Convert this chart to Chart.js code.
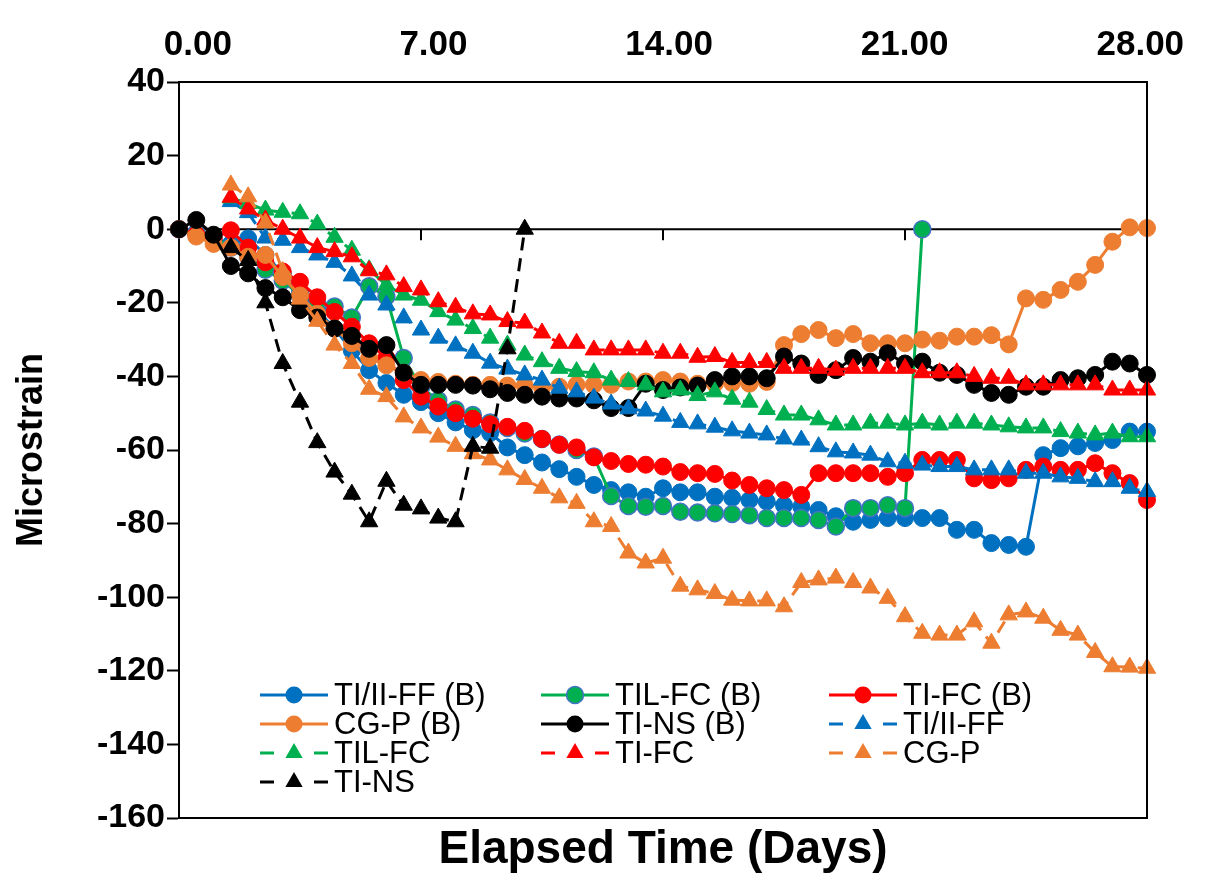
<!DOCTYPE html>
<html>
<head>
<meta charset="utf-8">
<title>Microstrain vs Elapsed Time</title>
<script src="https://cdn.jsdelivr.net/npm/chart.js@4.4.1/dist/chart.umd.min.js"></script>
<style>
    html, body { margin: 0; padding: 0; background: #ffffff; }
    #strainChart { display: block; }
</style>
</head>
<body>
<canvas id="strainChart" width="1210" height="878"></canvas>
<script>
// Elapsed time in days (readings every half day)
const days = [0, 0.5, 1, 1.5, 2, 2.5, 3, 3.5, 4, 4.5, 5, 5.5, 6, 6.5, 7, 7.5, 8, 8.5, 9, 9.5,
    10, 10.5, 11, 11.5, 12, 12.5, 13, 13.5, 14, 14.5, 15, 15.5, 16, 16.5, 17, 17.5, 18, 18.5, 19, 19.5,
    20, 20.5, 21, 21.5, 22, 22.5, 23, 23.5, 24, 24.5, 25, 25.5, 26, 26.5, 27, 27.5, 28];

// Top axis tick labels (days)
const dayTicks = [0, 7, 14, 21, 28];

// Bonded gauges (B) - solid lines with circles
const tiIIffB = [0, -1, -2.5, -4, -2.5, -7, -12, -17, -22, -27,
    -33, -38.3, -41.8, -45, -47, -50, -52.5, -54.6, -55.4, -59.3,
    -61.4, -63.4, -65.2, -67.3, -69.5, -70.9, -71.5, -72.7, -70.4, -71.5,
    -71.5, -72.7, -73, -73.6, -74, -75, -75.4, -76.3, -78, -79.5,
    -79, -78.5, -78.5, -78.5, -78.5, -81.7, -81.7, -85.3, -85.8, -86.3,
    -61.4, -59.5, -59, -58.1, -57.3, -55, -55];
const tilFcB = [0, -1, -2, -5, -7.5, -11, -14, -18, -20, -21,
    -24, -15.5, -18.3, -35, -43, -46.5, -49, -50.5, -52.5, -54,
    -55.5, -57, -58.5, -60, -61.8, -72.5, -75.2, -75.4, -75.2, -76.8,
    -77, -77.2, -77.4, -77.7, -78.5, -78.5, -78.5, -79, -80.8, -75.8,
    -75.8, -75, -75.8, 0];
const tiFcB = [0, -1.5, -2.5, -0.3, -5, -9, -11.5, -14.3, -18.5, -22.5,
    -26.5, -31, -35, -41, -45.5, -48.2, -50, -51.5, -53, -53.7,
    -54.8, -57, -58.6, -59.3, -62, -63, -63.8, -64, -64.5, -66,
    -66.3, -66.5, -68.3, -69.5, -70.4, -70.9, -72.2, -66.3, -66.3, -66.3,
    -66.3, -67.3, -66.3, -62.7, -62.7, -62.7, -67.7, -68.2, -67.7, -65.4,
    -64.5, -65.4, -65.4, -63.6, -66.3, -69, -73.6];
const cgPB = [0, -2, -4, -5, -7.5, -7, -13, -18, -23, -27,
    -31, -35, -37, -39, -41, -41.5, -42, -42.3, -42.3, -42.5,
    -42.5, -43, -42.8, -42.3, -42.3, -42.3, -41.4, -41.4, -41, -41.4,
    -42, -42, -41.8, -42, -41.5, -31.5, -28.5, -27.4, -29.6, -28.5,
    -31, -31, -31, -30, -30.3, -29.2, -29.2, -28.8, -31.3, -18.8,
    -19.2, -16.5, -14.3, -9.7, -3.4, 0.5, 0.3];
const tiNsB = [0, 2.5, -1.5, -10, -12, -16, -18.5, -22, -24, -27,
    -29, -32.5, -31.5, -39, -42.3, -42.3, -42.3, -42.5, -43.5, -44.5,
    -45, -45.5, -46, -46, -46.5, -48.6, -48.6, -42, -43.7, -43,
    -42.5, -41, -40, -40, -40.5, -34.6, -36.5, -39.6, -38.3, -35,
    -36, -33.7, -36.5, -36, -39, -39.6, -42.3, -44.5, -45, -42.8,
    -42.8, -41, -40.5, -39.6, -36, -36.5, -39.6];

// Unbonded gauges - dashed lines with triangles (start at day 1.5)
const tiIIff = [null, null, null, 7.5, 4.5, -2.4, -3, -5, -7, -9,
    -12.7, -17.9, -20.6, -24.1, -27.4, -29.6, -31.7, -33.7, -36.4, -38,
    -39.6, -41, -43.2, -44.2, -45.9, -47.5, -48.8, -49.4, -50.8, -52.5,
    -52.9, -53.8, -54.8, -55.4, -55.9, -57, -57.3, -59.1, -60.5, -60.8,
    -61.4, -63.2, -63.6, -64.1, -64.5, -64.5, -65.4, -65.4, -65.4, -66.3,
    -66.3, -67.3, -67.7, -68.6, -68.6, -70.4, -71.3];
const tilFc = [null, null, null, 8.5, 7, 5.2, 4.6, 4.2, 1.4, -2.2,
    -5.7, -11, -15.2, -17.9, -19.3, -22.4, -24.7, -27, -29.6, -31.5,
    -34.2, -36, -37.8, -38.7, -39, -41, -41.4, -42.3, -44.2, -43.7,
    -45.2, -44.2, -46.2, -47, -49, -50.5, -50.5, -51.8, -53.2, -53.2,
    -52.7, -52.7, -53.2, -52.7, -53.2, -52.7, -52.7, -53.2, -53.7, -54,
    -54, -55, -55.4, -55.9, -55.4, -56.4, -56.4];
const tiFc = [null, null, null, 8.7, 5.5, 2.5, 0, -2.4, -5, -6.1,
    -7.5, -11.3, -12.4, -15.6, -16.5, -19.7, -21.2, -23, -23.3, -25.1,
    -25.5, -28.2, -31, -31, -32.8, -32.8, -32.8, -32.8, -33.7, -33.7,
    -34.8, -34.6, -36.2, -36.2, -36.2, -37.8, -37.8, -37.8, -38.3, -37.8,
    -37.8, -37.8, -37.8, -39, -39, -39, -40, -40.5, -40.5, -42.3,
    -42.3, -42.3, -42.3, -42.3, -43.7, -43.7, -43.7];
const cgP = [null, null, null, 12, 8.8, 1.7, -11.5, -19, -25, -31.5,
    -36.5, -43.5, -45.5, -51, -54, -56.5, -59, -61, -62.7, -65.4,
    -68, -70.4, -73, -74.5, -79.5, -80.8, -88, -90.7, -89.4, -97,
    -98, -99, -100.8, -101, -101, -102.6, -96, -95.3, -94.8, -96,
    -97.5, -100.3, -105.3, -109.8, -110.3, -110.3, -106.7, -112.5, -104.8, -104,
    -105.7, -109, -110.3, -115, -118.9, -119, -119.3];
const tiNs = [null, null, null, -5, -8.5, -20, -36.5, -47, -58, -66,
    -72, -79.5, -68.5, -75, -76, -78.5, -79.5, -59, -59.5, -32.5,
    0];

// Axis settings
const xMin = 0, xMax = 28;
const yMin = -160, yMax = 40, yStep = 20;

const FONT = "'Liberation Sans', Arial, Helvetica, sans-serif";
const BLUE = '#0070C0';
const GREEN = '#00B050';
const RED = '#FF0000';
const ORANGE = '#ED7D31';
const BLACK = '#000000';

function solidSeries(label, data, color, edge) {
    return {
        label: label,
        data: data,
        borderColor: color,
        backgroundColor: color,
        borderWidth: 3,
        pointStyle: 'circle',
        pointRadius: 8.5,
        pointHoverRadius: 8.5,
        pointBackgroundColor: color,
        pointBorderColor: edge || color,
        pointBorderWidth: edge ? 1.5 : 1,
        tension: 0,
        clip: false
    };
}

function dashedSeries(label, data, color) {
    return {
        label: label,
        data: data,
        borderColor: color,
        backgroundColor: color,
        borderWidth: 3,
        borderDash: [13, 8],
        pointStyle: 'triangle',
        pointRadius: 10,
        pointHoverRadius: 10,
        pointBackgroundColor: color,
        pointBorderColor: color,
        pointBorderWidth: 1,
        tension: 0,
        clip: false
    };
}

const datasets = [
    solidSeries('TI/II-FF (B)', tiIIffB, BLUE),
    solidSeries('TIL-FC (B)', tilFcB, GREEN, '#4472C4'),
    solidSeries('TI-FC (B)', tiFcB, RED),
    solidSeries('CG-P (B)', cgPB, ORANGE),
    solidSeries('TI-NS (B)', tiNsB, BLACK),
    dashedSeries('TI/II-FF', tiIIff, BLUE),
    dashedSeries('TIL-FC', tilFc, GREEN),
    dashedSeries('TI-FC', tiFc, RED),
    dashedSeries('CG-P', cgP, ORANGE),
    dashedSeries('TI-NS', tiNs, BLACK)
];
// later series are painted on top, like the original spreadsheet chart
datasets.forEach((ds, i) => { ds.order = datasets.length - i; });

// Legend layout (3 columns inside the plot area)
const legendCols = [260, 541, 829];
const legendRows = [695, 724, 753, 782];
const legendSymbolWidth = 68;

function drawMarker(ctx, style, x, y, r) {
    ctx.beginPath();
    if (style === 'triangle') {
        ctx.moveTo(x, y - r);
        ctx.lineTo(x + Math.sin(2 * Math.PI / 3) * r, y + 0.5 * r);
        ctx.lineTo(x - Math.sin(2 * Math.PI / 3) * r, y + 0.5 * r);
        ctx.closePath();
    } else {
        ctx.arc(x, y, r, 0, Math.PI * 2);
    }
    ctx.fill();
}

const chartDecorations = {
    id: 'chartDecorations',
    beforeDatasetsDraw(chart) {
        // x axis crosses at zero, with tick marks hanging below it
        const { ctx, chartArea, scales } = chart;
        const y0 = scales.y.getPixelForValue(0);
        ctx.save();
        ctx.strokeStyle = BLACK;
        ctx.lineWidth = 2;
        ctx.beginPath();
        ctx.moveTo(chartArea.left, y0);
        ctx.lineTo(chartArea.right, y0);
        dayTicks.forEach(d => {
            if (d > xMin && d < xMax) {
                const x = Math.round(scales.x.getPixelForValue(d));
                ctx.moveTo(x, y0);
                ctx.lineTo(x, y0 + 11);
            }
        });
        ctx.stroke();
        ctx.restore();
    },
    afterDatasetsDraw(chart) {
        // right side of the plot frame
        const { ctx, chartArea } = chart;
        ctx.save();
        ctx.strokeStyle = BLACK;
        ctx.lineWidth = 2;
        ctx.beginPath();
        ctx.moveTo(chartArea.right, chartArea.top - 1);
        ctx.lineTo(chartArea.right, chartArea.bottom + 1);
        ctx.stroke();
        ctx.restore();
    },
    afterDraw(chart) {
        const ctx = chart.ctx;
        ctx.save();
        ctx.font = '31px ' + FONT;
        ctx.textBaseline = 'middle';
        ctx.textAlign = 'left';
        chart.data.datasets.forEach((ds, i) => {
            const x = legendCols[i % 3];
            const y = legendRows[Math.floor(i / 3)];
            const mid = x + legendSymbolWidth / 2;
            ctx.strokeStyle = ds.borderColor;
            ctx.lineWidth = 3;
            ctx.beginPath();
            if (ds.borderDash) {
                ctx.moveTo(x, y);
                ctx.lineTo(x + 14, y);
                ctx.moveTo(x + legendSymbolWidth - 14, y);
                ctx.lineTo(x + legendSymbolWidth, y);
            } else {
                ctx.moveTo(x, y);
                ctx.lineTo(x + legendSymbolWidth, y);
            }
            ctx.stroke();
            ctx.fillStyle = ds.pointBackgroundColor;
            drawMarker(ctx, ds.pointStyle, mid, y, ds.pointRadius);
            if (ds.pointBorderColor !== ds.pointBackgroundColor) {
                ctx.strokeStyle = ds.pointBorderColor;
                ctx.lineWidth = ds.pointBorderWidth;
                ctx.stroke();
            }
            ctx.fillStyle = BLACK;
            ctx.fillText(ds.label, x + legendSymbolWidth + 6, y + 1);
        });
        ctx.restore();
    }
};

const ctx = document.getElementById('strainChart').getContext('2d');
new Chart(ctx, {
    type: 'line',
    data: {
        labels: days,
        datasets: datasets
    },
    options: {
        responsive: false,
        animation: false,
        devicePixelRatio: 1,
        layout: {
            padding: { left: 0, right: 63, top: 0, bottom: 0 }
        },
        plugins: {
            legend: { display: false },
            tooltip: { enabled: false },
            title: { display: false }
        },
        scales: {
            x: {
                type: 'linear',
                position: 'bottom',
                min: xMin,
                max: xMax,
                ticks: { display: false },
                grid: { display: false, drawTicks: false },
                border: { display: true, color: BLACK, width: 2 },
                title: {
                    display: true,
                    text: 'Elapsed Time (Days)',
                    color: BLACK,
                    font: { family: FONT, size: 46, weight: 'bold' },
                    padding: { top: 0, bottom: 0 }
                },
                afterFit(scale) { scale.height = 60; }
            },
            x2: {
                // label axis along the top; the spreadsheet spread its labels
                // a little narrower than the plot, so its range is slightly wider
                type: 'linear',
                position: 'top',
                min: -0.56,
                max: 28.2,
                afterBuildTicks(scale) {
                    scale.ticks = dayTicks.map(v => ({ value: v }));
                },
                ticks: {
                    padding: 16,
                    color: BLACK,
                    maxRotation: 0,
                    font: { family: FONT, size: 35, weight: 'bold' },
                    callback: v => v.toFixed(2)
                },
                grid: { display: false, drawTicks: false },
                border: { display: true, color: BLACK, width: 2 },
                afterFit(scale) { scale.height = 82; }
            },
            y: {
                type: 'linear',
                position: 'left',
                min: yMin,
                max: yMax,
                ticks: {
                    stepSize: yStep,
                    padding: 2,
                    color: BLACK,
                    font: { family: FONT, size: 34, weight: 'bold' }
                },
                grid: {
                    display: true,
                    drawOnChartArea: false,
                    drawTicks: true,
                    tickLength: 12,
                    tickWidth: 2,
                    tickColor: BLACK,
                    color: BLACK
                },
                border: { display: true, color: BLACK, width: 2 },
                title: {
                    display: true,
                    text: 'Microstrain',
                    color: BLACK,
                    font: { family: FONT, size: 36, weight: 'bold' },
                    padding: { top: 10, bottom: 0 }
                },
                afterFit(scale) { scale.width = 179; }
            }
        }
    },
    plugins: [chartDecorations]
});
</script>
</body>
</html>
